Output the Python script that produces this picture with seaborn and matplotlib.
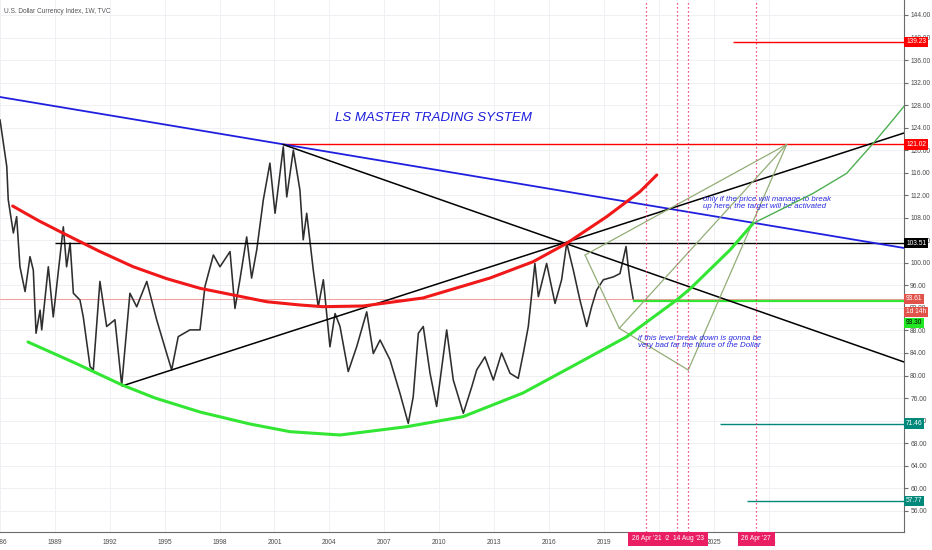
import matplotlib.pyplot as plt
import seaborn as sns

sns.set_style("white")
plt.rcParams["font.family"] = ["Liberation Sans", "DejaVu Sans"]

# DXY weekly swing points (decimal year, price)
price_years = [
    1986.00, 1986.37, 1986.45, 1986.73, 1986.91, 1987.09, 1987.37, 1987.64, 1987.82, 1987.97,
    1988.19, 1988.28, 1988.64, 1988.91, 1989.46, 1989.64, 1989.83, 1990.01, 1990.37, 1990.55,
    1990.92, 1991.10, 1991.46, 1991.83, 1992.28, 1992.65, 1993.10, 1993.47, 1994.02, 1994.56,
    1995.11, 1995.38, 1995.74, 1996.38, 1996.93, 1997.20, 1997.66, 1998.02, 1998.57, 1998.84,
    1999.11, 1999.48, 1999.75, 2000.03, 2000.39, 2000.75, 2001.03, 2001.48, 2001.67, 2002.03,
    2002.30, 2002.39, 2002.57, 2002.76, 2003.12, 2003.39, 2003.67, 2004.03, 2004.31, 2004.58,
    2005.03, 2005.49, 2006.04, 2006.40, 2006.77, 2007.31, 2007.86, 2008.31, 2008.58, 2008.86,
    2009.13, 2009.50, 2009.86, 2010.41, 2010.77, 2011.32, 2011.78, 2012.05, 2012.50, 2012.96,
    2013.41, 2013.87, 2014.32, 2014.60, 2014.87, 2015.23, 2015.42, 2015.87, 2016.33, 2016.69,
    2016.97, 2017.33, 2017.69, 2018.06, 2018.33, 2018.61, 2018.97, 2019.51, 2019.88, 2020.21,
    2020.33, 2020.42, 2020.60,
]
price_values = [
    125.4, 117.1, 111.2, 105.3, 108.2, 99.3, 94.9, 101.1, 98.7, 87.5,
    91.6, 88.1, 99.3, 90.4, 106.4, 99.3, 103.5, 94.6, 93.4, 90.4,
    81.6, 81.0, 96.7, 88.7, 89.9, 78.3, 94.6, 92.2, 96.7, 89.9,
    83.9, 81.0, 86.9, 88.1, 88.1, 95.8, 101.4, 99.3, 102.0, 91.9,
    97.0, 104.6, 97.3, 102.3, 111.2, 117.7, 108.8, 120.6, 111.7, 120.0,
    114.7, 112.9, 104.1, 108.8, 98.7, 92.2, 97.0, 85.1, 91.0, 88.7,
    80.7, 85.1, 91.3, 83.9, 86.3, 82.8, 76.8, 71.5, 76.2, 87.5,
    88.7, 80.4, 74.5, 88.1, 79.2, 73.3, 78.0, 81.0, 83.3, 79.2,
    84.0, 80.4, 79.5, 84.0, 88.7, 99.9, 94.0, 99.9, 92.8, 97.0,
    103.5, 98.7, 93.4, 88.7, 92.2, 95.2, 97.0, 97.5, 98.1, 102.9,
    99.3, 97.0, 93.6,
]

# drawn curves
red_arc_years = [1986.69, 1988.10, 1989.46, 1991.40, 1993.27, 1995.10, 1996.93, 2000.57,
                 2002.39, 2003.65, 2005.84, 2009.11, 2012.78, 2015.13, 2016.97, 2019.15,
                 2020.97, 2021.89]
red_arc_values = [110.09, 107.50, 105.25, 102.10, 99.32, 97.20, 95.48, 93.10,
                  92.52, 92.22, 92.34, 93.76, 97.31, 100.20, 103.47, 108.19,
                  112.63, 115.60]

green_arc_years = [1987.53, 1990.10, 1992.67, 1994.47, 1996.93, 1999.66, 2001.85, 2004.58,
                   2008.22, 2011.30, 2014.58, 2017.31, 2020.25, 2022.98, 2023.70, 2025.89, 2027.16]
green_arc_values = [85.95, 82.22, 78.32, 76.01, 73.52, 71.39, 70.03, 69.44,
                    70.91, 72.69, 76.90, 81.69, 86.89, 93.41, 95.36, 102.28, 107.02]

green_ext_years = [2027.16, 2028.62, 2030.44, 2032.27, 2033.72, 2034.64, 2035.46]
green_ext_values = [107.02, 109.38, 112.35, 115.90, 121.22, 124.77, 128.02]

# projection shape: A, B, C, apex D
forecast_years = [2017.97, 2019.84, 2023.61, 2028.99]
forecast_values = [101.39, 88.38, 80.98, 121.02]

# straight trend lines (start, end)
blue_years, blue_values = [1986.0, 2035.4], [129.44, 102.64]
fall_years, fall_values = [2001.46, 2035.4], [121.02, 82.40]
rise_years, rise_values = [1992.67, 2035.4], [78.14, 123.05]

# horizontal levels and where they start
level_values = [139.23, 121.02, 103.51, 93.30, 71.46, 57.77]
level_starts = [2026.05, 2001.46, 1989.00, 2020.60, 2025.34, 2026.82]
level_colors = ["#ff0000", "#ff0000", "#000000", "#33e633", "#00897b", "#00897b"]
last_price = 93.61

date_marks = [2021.32, 2022.99, 2023.62, 2027.32]
date_labels = ["26 Apr '21", "02 Jan '23", "14 Aug '23", "26 Apr '27"]

year_ticks = [1986, 1989, 1992, 1995, 1998, 2001, 2004, 2007, 2010, 2013, 2016, 2019, 2022, 2025, 2028]
price_ticks = [56, 60, 64, 68, 72, 76, 80, 84, 88, 92, 96, 100, 104, 108, 112, 116, 120,
               124, 128, 132, 136, 140, 144]

X_MIN, X_MAX = 1986.0, 2035.4
Y_MIN, Y_MAX = 52.22, 146.66

fig = plt.figure(figsize=(9.32, 5.5), dpi=100)
ax = fig.add_axes([0, 18 / 550, 904 / 932, 532 / 550])

# grid + axes
ax.set_xlim(X_MIN, X_MAX)
ax.set_ylim(Y_MIN, Y_MAX)
ax.set_xticks(year_ticks)
ax.set_xticklabels([str(y) for y in year_ticks])
ax.set_yticks(price_ticks)
ax.set_yticklabels([f"{v:.2f}" for v in price_ticks])
ax.grid(True, color="#eef0f3", lw=0.7)
ax.set_axisbelow(True)
for side in ["left", "top"]:
    ax.spines[side].set_visible(False)
for side in ["right", "bottom"]:
    ax.spines[side].set_color("#6b6b6b")
    ax.spines[side].set_linewidth(0.8)
ax.yaxis.tick_right()
ax.tick_params(axis="y", length=3, color="#6b6b6b", labelsize=4.8, labelcolor="#4a4a4a", pad=1.5)
ax.tick_params(axis="x", length=3, color="#6b6b6b", labelsize=4.8, labelcolor="#4a4a4a", pad=2)

# current price line (thin)
ax.axhline(last_price, color="#ef8a8a", lw=0.6, zorder=1)

# price series
sns.lineplot(x=price_years, y=price_values, estimator=None, color="#2e2e2e", lw=1.15,
             ax=ax, zorder=2)

# horizontal levels
for val, start, col in zip(level_values, level_starts, level_colors):
    lw = 1.6 if col == "#33e633" else 1.0
    ax.hlines(val, start, X_MAX, colors=col, lw=lw, zorder=3)

# trend lines
ax.plot(blue_years, blue_values, color="#1f1fe0", lw=1.3, zorder=3)
ax.plot(fall_years, fall_values, color="#000000", lw=1.1, zorder=3)
ax.plot(rise_years, rise_values, color="#000000", lw=1.1, zorder=3)

# arcs
sns.lineplot(x=red_arc_years, y=red_arc_values, estimator=None, color="#f01818", lw=2.2,
             ax=ax, zorder=4)
sns.lineplot(x=green_arc_years, y=green_arc_values, estimator=None, color="#33e633", lw=2.2,
             ax=ax, zorder=4)
sns.lineplot(x=green_ext_years, y=green_ext_values, estimator=None, color="#4caf50", lw=1.0,
             ax=ax, zorder=4)

# projection shape
fa, fb, fc, fd = list(zip(forecast_years, forecast_values))
for p, q in [(fa, fb), (fb, fc), (fa, fd), (fb, fd), (fc, fd)]:
    ax.plot([p[0], q[0]], [p[1], q[1]], color="#93ad76", lw=0.9, zorder=3)

# vertical date markers
for d in date_marks:
    ax.axvline(d, color="#e91e63", lw=0.9, ls=(0, (1, 2.2)), zorder=3)

# texts
ax.text(0.0045, 0.979, "U.S. Dollar Currency Index, 1W, TVC", transform=ax.transAxes,
        fontsize=4.7, color="#555555", ha="left", va="center")
ax.text(2009.66, 125.7, "LS MASTER TRADING SYSTEM", fontsize=9.5, style="italic",
        color="#1c1cdc", ha="center", va="center")
ax.text(2024.42, 110.6, "only if the price will manage to break\nup here, the target will be activated",
        fontsize=5.7, style="italic", color="#2a2ae0", ha="left", va="center", linespacing=1.05)
ax.text(2020.86, 85.95, "if this level break down is gonna be\nvery bad far the future of the Dollar",
        fontsize=5.7, style="italic", color="#2a2ae0", ha="left", va="center", linespacing=1.05)

# right-hand price labels
box_style = dict(boxstyle="square,pad=0.25", ec="none")
right_labels = [
    (139.23, "139.23", "#ff0000", 0),
    (121.02, "121.02", "#ff0000", 0),
    (103.51, "103.51", "#000000", 0),
    (last_price, "93.61", "#e0524a", 0),
    (last_price, "1d 14h", "#e0524a", -9.4),
    (93.30, "93.30", "#22e622", -15.9),
    (71.46, "71.46", "#00897b", 0),
    (57.77, "57.77", "#00897b", 0),
]
for val, txt, col, dy in right_labels:
    tcol = "#000000" if col == "#22e622" else "white"
    ax.annotate(txt, xy=(1, val), xycoords=("axes fraction", "data"), xytext=(1.5, dy),
                textcoords="offset points", ha="left", va="center", fontsize=4.8,
                color=tcol, bbox=dict(box_style, fc=col), annotation_clip=False, zorder=8)

# date boxes on the time axis ("02 Jan '23" sits underneath its neighbours)
box_layers = [9, 8, 10, 9]
for d, txt, z in zip(date_marks, date_labels, box_layers):
    ax.annotate(txt, xy=(d, 0), xycoords=("data", "axes fraction"), xytext=(0, -4.8),
                textcoords="offset points", ha="center", va="center", fontsize=4.8,
                color="white", bbox=dict(boxstyle="square,pad=0.55", fc="#e91e63", ec="none"),
                annotation_clip=False, zorder=z)

fig.savefig("out.png", dpi=100)
